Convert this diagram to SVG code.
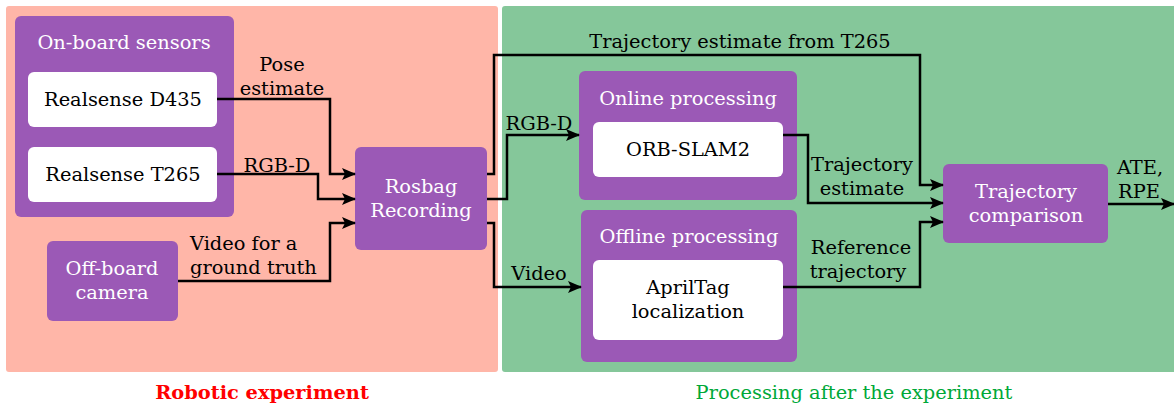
<svg xmlns="http://www.w3.org/2000/svg" width="1174" height="407" viewBox="0 0 1174 407">
<style>
text{font-family:"DejaVu Serif","Liberation Serif",serif;font-size:19.4px;text-anchor:middle}
.w{fill:#ffffff}
.k{fill:#000000}
.p{fill:#9B59B6}
.b{fill:#ffffff}
.c{fill:none;stroke:#000;stroke-width:2.5}
</style>
<defs>
<marker id="a" markerWidth="14" markerHeight="12" refX="13" refY="6" orient="auto" markerUnits="userSpaceOnUse">
<path d="M0,0 L14,6 L0,12 L3,6 z" fill="#000"/>
</marker>
</defs>
<rect x="6" y="6" width="492" height="366" rx="3" fill="#FFB6A8"/>
<rect x="502" y="6" width="676" height="366" rx="3" fill="#85C79A"/>
<g id="onboard">
<rect class="p" x="15" y="16" width="219" height="201" rx="6"/>
<text class="w" x="124" y="49">On-board sensors</text>
</g>
<g id="d435">
<rect class="b" x="28" y="72" width="189" height="55" rx="6"/>
<text class="k" x="123" y="106">Realsense D435</text>
</g>
<g id="t265">
<rect class="b" x="28" y="147" width="189" height="55" rx="6"/>
<text class="k" x="123" y="181">Realsense T265</text>
</g>
<g id="offboard">
<rect class="p" x="47" y="241" width="131" height="80" rx="6"/>
<text class="w" x="112" y="275">Off-board</text>
<text class="w" x="112" y="299">camera</text>
</g>
<g id="rosbag">
<rect class="p" x="355" y="147" width="132" height="103" rx="6"/>
<text class="w" x="421" y="193">Rosbag</text>
<text class="w" x="421" y="217">Recording</text>
</g>
<g id="online">
<rect class="p" x="579" y="71" width="218" height="129" rx="6"/>
<text class="w" x="688" y="105">Online processing</text>
</g>
<g id="orbslam">
<rect class="b" x="593" y="122" width="190" height="55" rx="6"/>
<text class="k" x="688" y="156">ORB-SLAM2</text>
</g>
<g id="offline">
<rect class="p" x="581" y="210" width="216" height="152" rx="6"/>
<text class="w" x="689" y="243">Offline processing</text>
</g>
<g id="apriltag">
<rect class="b" x="593" y="260" width="190" height="80" rx="6"/>
<text class="k" x="688" y="294">AprilTag</text>
<text class="k" x="688" y="318">localization</text>
</g>
<g id="comparison">
<rect class="p" x="943" y="164" width="165" height="79" rx="6"/>
<text class="w" x="1026" y="198">Trajectory</text>
<text class="w" x="1026" y="222">comparison</text>
</g>
<g id="connectors">
<polyline class="c" points="217,99 330,99 330,174 355,174" marker-end="url(#a)"/>
<polyline class="c" points="217,174 318,174 318,199 355,199" marker-end="url(#a)"/>
<polyline class="c" points="178,281 330,281 330,223 355,223" marker-end="url(#a)"/>
<polyline class="c" points="487,174 494,174 494,55 920,55 920,185 943,185" marker-end="url(#a)"/>
<polyline class="c" points="487,199 507,199 507,135 579,135" marker-end="url(#a)"/>
<polyline class="c" points="487,223 494,223 494,287 581,287" marker-end="url(#a)"/>
<polyline class="c" points="783,135 808,135 808,203 943,203" marker-end="url(#a)"/>
<polyline class="c" points="783,287 920,287 920,222 943,222" marker-end="url(#a)"/>
<polyline class="c" points="1108,204 1174,204" marker-end="url(#a)"/>
<text class="k" x="282" y="71">Pose</text>
<text class="k" x="282" y="95">estimate</text>
<text class="k" x="277" y="172">RGB-D</text>
<text class="k" x="190" y="250" style="text-anchor:start">Video for a</text>
<text class="k" x="190" y="274" style="text-anchor:start">ground truth</text>
<text class="k" x="740" y="48">Trajectory estimate from T265</text>
<text class="k" x="539" y="130">RGB-D</text>
<text class="k" x="539" y="280">Video</text>
<text class="k" x="862" y="171">Trajectory</text>
<text class="k" x="862" y="195">estimate</text>
<text class="k" x="861" y="254">Reference</text>
<text class="k" x="858" y="278">trajectory</text>
<text class="k" x="1140" y="174">ATE,</text>
<text class="k" x="1139" y="198">RPE</text>
</g>
<text x="262" y="399" style="font-weight:bold;fill:#FF0000">Robotic experiment</text>
<text x="854" y="399" style="fill:#00A838">Processing after the experiment</text>
</svg>
